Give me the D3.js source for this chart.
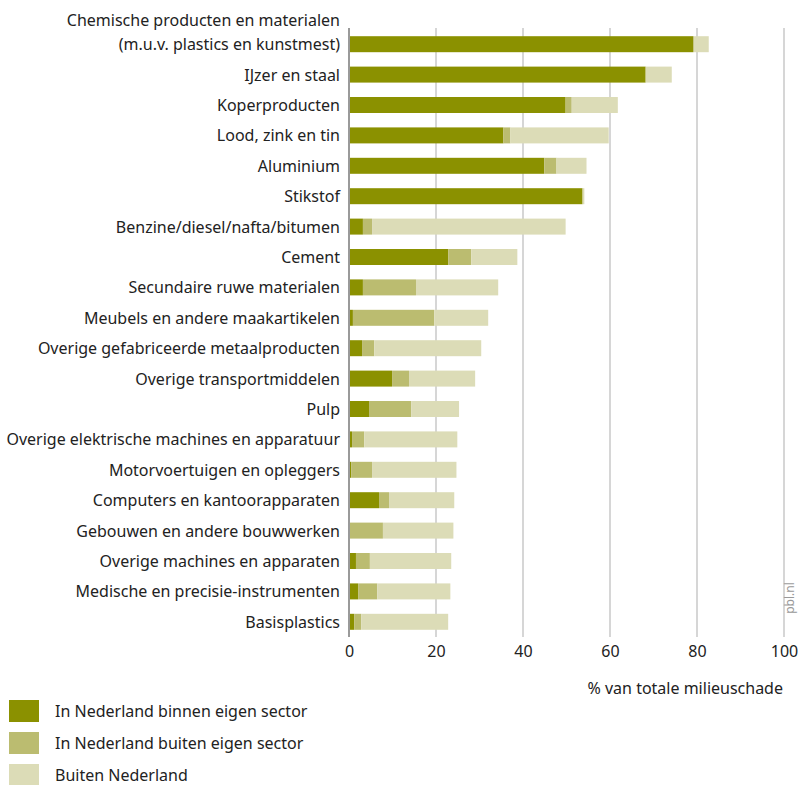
<!DOCTYPE html>
<html>
<head>
<meta charset="utf-8">
<script src="https://cdn.jsdelivr.net/npm/d3@7"></script>
<style>
  html, body { margin: 0; padding: 0; background: #fff; }
  svg { display: block; }
  text { font-family: "Noto Sans", "Open Sans", sans-serif; fill: #222; }
</style>
</head>
<body>
<svg id="chart" width="804" height="785"></svg>
<script>
const categories = [
  "Chemische producten en materialen|(m.u.v. plastics en kunstmest)",
  "IJzer en staal",
  "Koperproducten",
  "Lood, zink en tin",
  "Aluminium",
  "Stikstof",
  "Benzine/diesel/nafta/bitumen",
  "Cement",
  "Secundaire ruwe materialen",
  "Meubels en andere maakartikelen",
  "Overige gefabriceerde metaalproducten",
  "Overige transportmiddelen",
  "Pulp",
  "Overige elektrische machines en apparatuur",
  "Motorvoertuigen en opleggers",
  "Computers en kantoorapparaten",
  "Gebouwen en andere bouwwerken",
  "Overige machines en apparaten",
  "Medische en precisie-instrumenten",
  "Basisplastics"
];
const binnenSector = [79.1, 68.2, 49.8, 35.5, 44.9, 53.7, 3.2, 22.8, 3.2, 0.9, 3.0, 9.9, 4.6, 0.7, 0.5, 6.9, 0.2, 1.6, 2.1, 1.2];
const buitenSector = [0.2, 0.0, 1.4, 1.6, 2.8, 0.0, 2.1, 5.3, 12.2, 18.7, 2.8, 3.9, 9.7, 2.8, 4.8, 2.3, 7.6, 3.2, 4.4, 1.6];
const buitenNL     = [3.4, 6.0, 10.6, 22.6, 6.9, 0.4, 44.5, 10.6, 18.9, 12.4, 24.6, 15.2, 11.0, 21.4, 19.4, 15.0, 16.2, 18.7, 16.8, 20.0];
const seriesNames = ["In Nederland binnen eigen sector", "In Nederland buiten eigen sector", "Buiten Nederland"];
const seriesColors = ["#8b9100", "#bbbc70", "#dcdcb7"];
const xTicks = [0, 20, 40, 60, 80, 100];
const axisTitle = "% van totale milieuschade";
const sourceLabel = "pbl.nl";

const svg = d3.select("#chart");
const keys = ["a", "b", "c"];
const rows = categories.map((c, i) => ({ cat: c, a: binnenSector[i], b: buitenSector[i], c: buitenNL[i] }));
const stacked = d3.stack().keys(keys)(rows);

const x = d3.scaleLinear().domain([0, 100]).range([349, 784]);
const y = d3.scaleBand().domain(categories).range([29, 637]).paddingInner(0.474).paddingOuter(0.237);

// gridlines
svg.append("g").selectAll("line").data(xTicks.filter(t => t > 0)).join("line")
  .attr("x1", d => x(d)).attr("x2", d => x(d))
  .attr("y1", 28).attr("y2", 637)
  .attr("stroke", "#d6d6d6").attr("stroke-width", 2);

// bars
svg.append("g").selectAll("g").data(stacked).join("g")
  .attr("fill", (d, i) => seriesColors[i])
  .selectAll("rect").data(d => d).join("rect")
  .attr("x", d => x(d[0]))
  .attr("width", d => Math.max(0, x(d[1]) - x(d[0])))
  .attr("y", d => y(d.data.cat))
  .attr("height", y.bandwidth());

// zero axis line
svg.append("line").attr("x1", x(0)).attr("x2", x(0)).attr("y1", 28).attr("y2", 637)
  .attr("stroke", "#9a9a9a").attr("stroke-width", 2);

// category labels
const lab = svg.append("g").selectAll("text").data(categories).join("text")
  .attr("x", 340)
  .attr("y", d => y(d) + y.bandwidth() / 2)
  .attr("text-anchor", "end")
  .attr("dominant-baseline", "central")
  .style("font-size", "16px");
lab.each(function(d) {
  const parts = d.split("|");
  const t = d3.select(this);
  if (parts.length === 1) { t.text(d); return; }
  parts.forEach((p, k) => {
    t.append("tspan").attr("x", 340)
      .attr("dy", k === 0 ? -(parts.length - 1) * 24 : 24)
      .text(p);
  });
});

// x axis tick labels
const xAxis = d3.axisBottom(x).tickValues(xTicks).tickSize(0).tickPadding(0);
const ax = svg.append("g").attr("transform", "translate(0,646)").call(xAxis);
ax.select(".domain").remove();
ax.selectAll("text").style("font-size", "16px").attr("fill", "#222")
  .attr("font-family", null).attr("dy", "0.71em");

svg.append("text").attr("x", 783).attr("y", 688)
  .attr("text-anchor", "end").attr("dominant-baseline", "central")
  .style("font-size", "16px").text(axisTitle);

// source
svg.append("text").attr("transform", "translate(794,598) rotate(-90)")
  .attr("text-anchor", "middle")
  .style("font-size", "12px").style("fill", "#999").text(sourceLabel);

// legend
const leg = svg.append("g").selectAll("g").data(seriesNames).join("g")
  .attr("transform", (d, i) => `translate(9,${700 + i * 32})`);
leg.append("rect").attr("width", 30).attr("height", 22).attr("fill", (d, i) => seriesColors[i]);
leg.append("text").attr("x", 46).attr("y", 11).attr("dominant-baseline", "central")
  .style("font-size", "16px").text(d => d);
</script>
</body>
</html>
